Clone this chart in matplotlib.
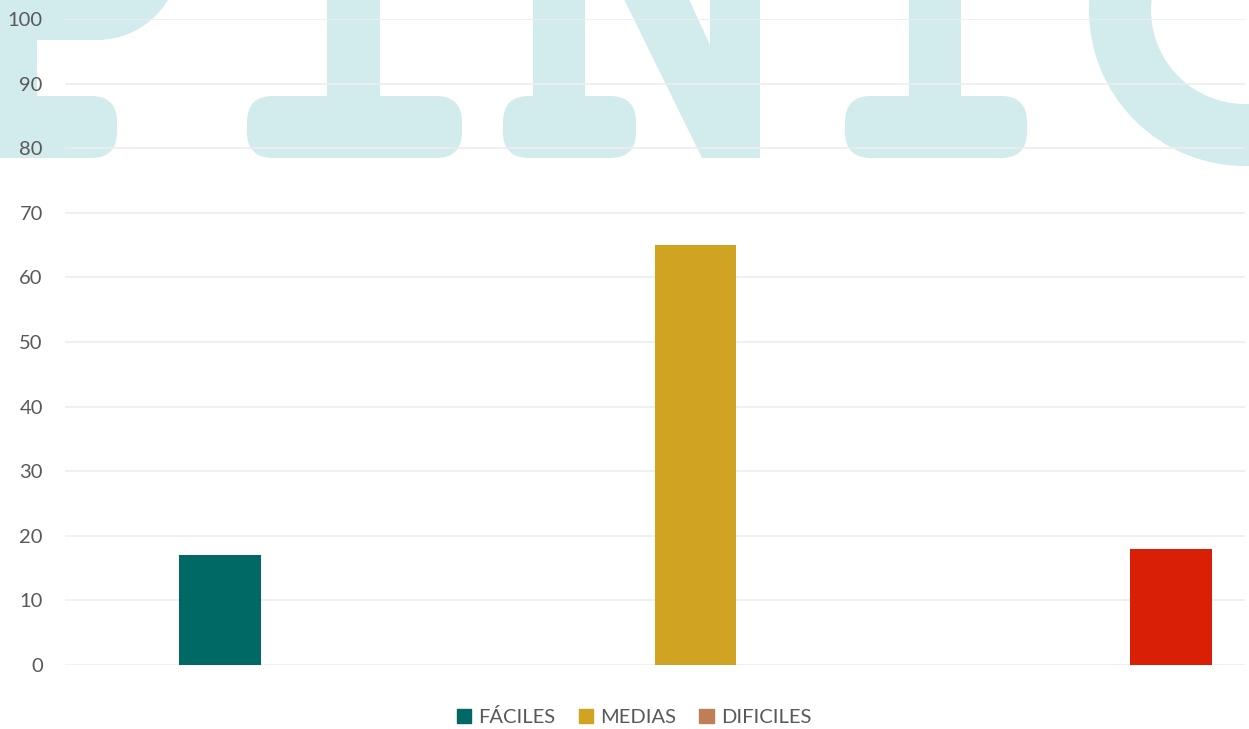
import matplotlib
matplotlib.use("Agg")
import matplotlib.pyplot as plt
import matplotlib.patches as mpatches

categories = ["FÁCILES", "MEDIAS", "DIFICILES"]
values = [17, 65, 18]
bar_colors = ["#006966", "#D0A323", "#D91F05"]
legend_colors = ["#006966", "#D0A323", "#BF7E58"]
yticks = [0, 10, 20, 30, 40, 50, 60, 70, 80, 90, 100]

W, H = 1249, 729
fig = plt.figure(figsize=(W / 100, H / 100), dpi=100)

# background watermark (cropped "PINIC" letters), drawn in pixel coords
bg = fig.add_axes([0, 0, 1, 1], zorder=0)
bg.set_xlim(0, W)
bg.set_ylim(H, 0)
bg.axis("off")
wm = "#D2EBEC"


def serif(x0, x1, y0=96, y1=158):
    bg.add_patch(mpatches.FancyBboxPatch((x0, y0), x1 - x0, y1 - y0,
                 boxstyle="round,pad=0,rounding_size=26", fc=wm, ec="none"))


def rect(x0, x1, y0, y1):
    bg.add_patch(mpatches.Rectangle((x0, y0), x1 - x0, y1 - y0, fc=wm, ec="none"))


# P
serif(-100, 117)
rect(-20, 37, -20, 110)
rect(-20, 97, -100, 40)
bg.add_patch(mpatches.Circle((97, -43), 83, fc=wm, ec="none"))
# I
serif(247, 462)
rect(327, 380, -20, 110)
# N
serif(503, 636)
rect(533, 585, -20, 110)
bg.add_patch(mpatches.Polygon([(622, -5), (687, -5), (710, 45), (710, -5),
                               (760, -5), (760, 158), (702, 158)],
                              closed=True, fc=wm, ec="none"))
# I
serif(845, 1027)
rect(909, 961, -20, 110)
# C
bg.add_patch(mpatches.Wedge((1245, 10), 156, 0, 360, width=62, fc=wm, ec="none"))

ax = fig.add_axes([65 / W, (H - 665) / H, (1245 - 65) / W, (665 - 19) / H], zorder=1)
ax.set_facecolor("none")

x = list(range(len(categories)))
ax.bar(x, values, width=0.172, color=bar_colors, zorder=3)

ax.set_xlim(-0.326, 2.156)
ax.set_ylim(0, 100)
ax.set_yticks(yticks)
ax.set_xticks([])
ax.yaxis.grid(True, color="#EDEDED", linewidth=1.2, zorder=1)
ax.set_axisbelow(True)
for s in ax.spines.values():
    s.set_visible(False)
ax.tick_params(axis="y", length=0, pad=16, labelsize=14.5, labelcolor="#595959")
for lbl in ax.get_yticklabels():
    lbl.set_family("Lato")

handles = [mpatches.Patch(color=c, label=l) for c, l in zip(legend_colors, categories)]
fig.legend(handles=handles, loc="center", bbox_to_anchor=(634 / W, 1 - 717 / H),
           ncol=3, frameon=False, handlelength=0.72, handleheight=0.72,
           handletextpad=0.35, columnspacing=1.15,
           prop={"family": "Lato", "size": 14.5}, labelcolor="#595959")

fig.savefig("out.png", dpi=100)
